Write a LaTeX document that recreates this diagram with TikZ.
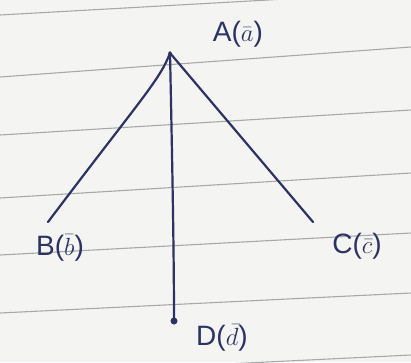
\documentclass[tikz,border=0pt]{standalone}
\usepackage{fontspec}
\setmainfont{Liberation Sans}
\begin{document}
\begin{tikzpicture}[x=1pt,y=-1pt,
  ink/.style={draw=inkc,line width=2.2pt,line cap=round},
  lbl/.style={text=inkc,font=\fontsize{28}{30}\selectfont,inner sep=0pt},
  rule/.style={draw=rulec,line width=1.1pt}]
\definecolor{inkc}{HTML}{2C3262}
\definecolor{rulec}{HTML}{A6A8AC}
\definecolor{paper}{HTML}{F4F4F2}
\fill[paper] (0,0) rectangle (411,362);
\useasboundingbox (0,0) rectangle (411,362);
% notebook rules
\foreach \l/\r in {15/-8, 77/47, 135/110, 198/173, 255/233, 313/293, 375/355}
  \draw[rule] (0,\l) -- (411,\r);
% points
\coordinate (ra) at (170,53);
\coordinate (rb) at (48,222);
\coordinate (rc) at (313,222);
\coordinate (rd) at (174,321);
% labels
\node[lbl] (a) at (238,34) {A($\bar{a}$)};
\node[lbl] (b) at (60,248) {B($\bar{b}$)};
\node[lbl] (c) at (357,246) {C($\bar{c}$)};
\node[lbl] (d) at (222,338) {D($\bar{d}$)};
% connectors
\draw[ink] (ra) .. controls (160,80) and (140,100) .. (rb);
\draw[ink] (ra) -- (rc);
\draw[ink] (ra) .. controls (172,150) and (174,250) .. (rd);
\fill[inkc] (rd) circle (3.5pt);
\fill[inkc] (ra) circle (1.8pt);
\end{tikzpicture}
\end{document}
